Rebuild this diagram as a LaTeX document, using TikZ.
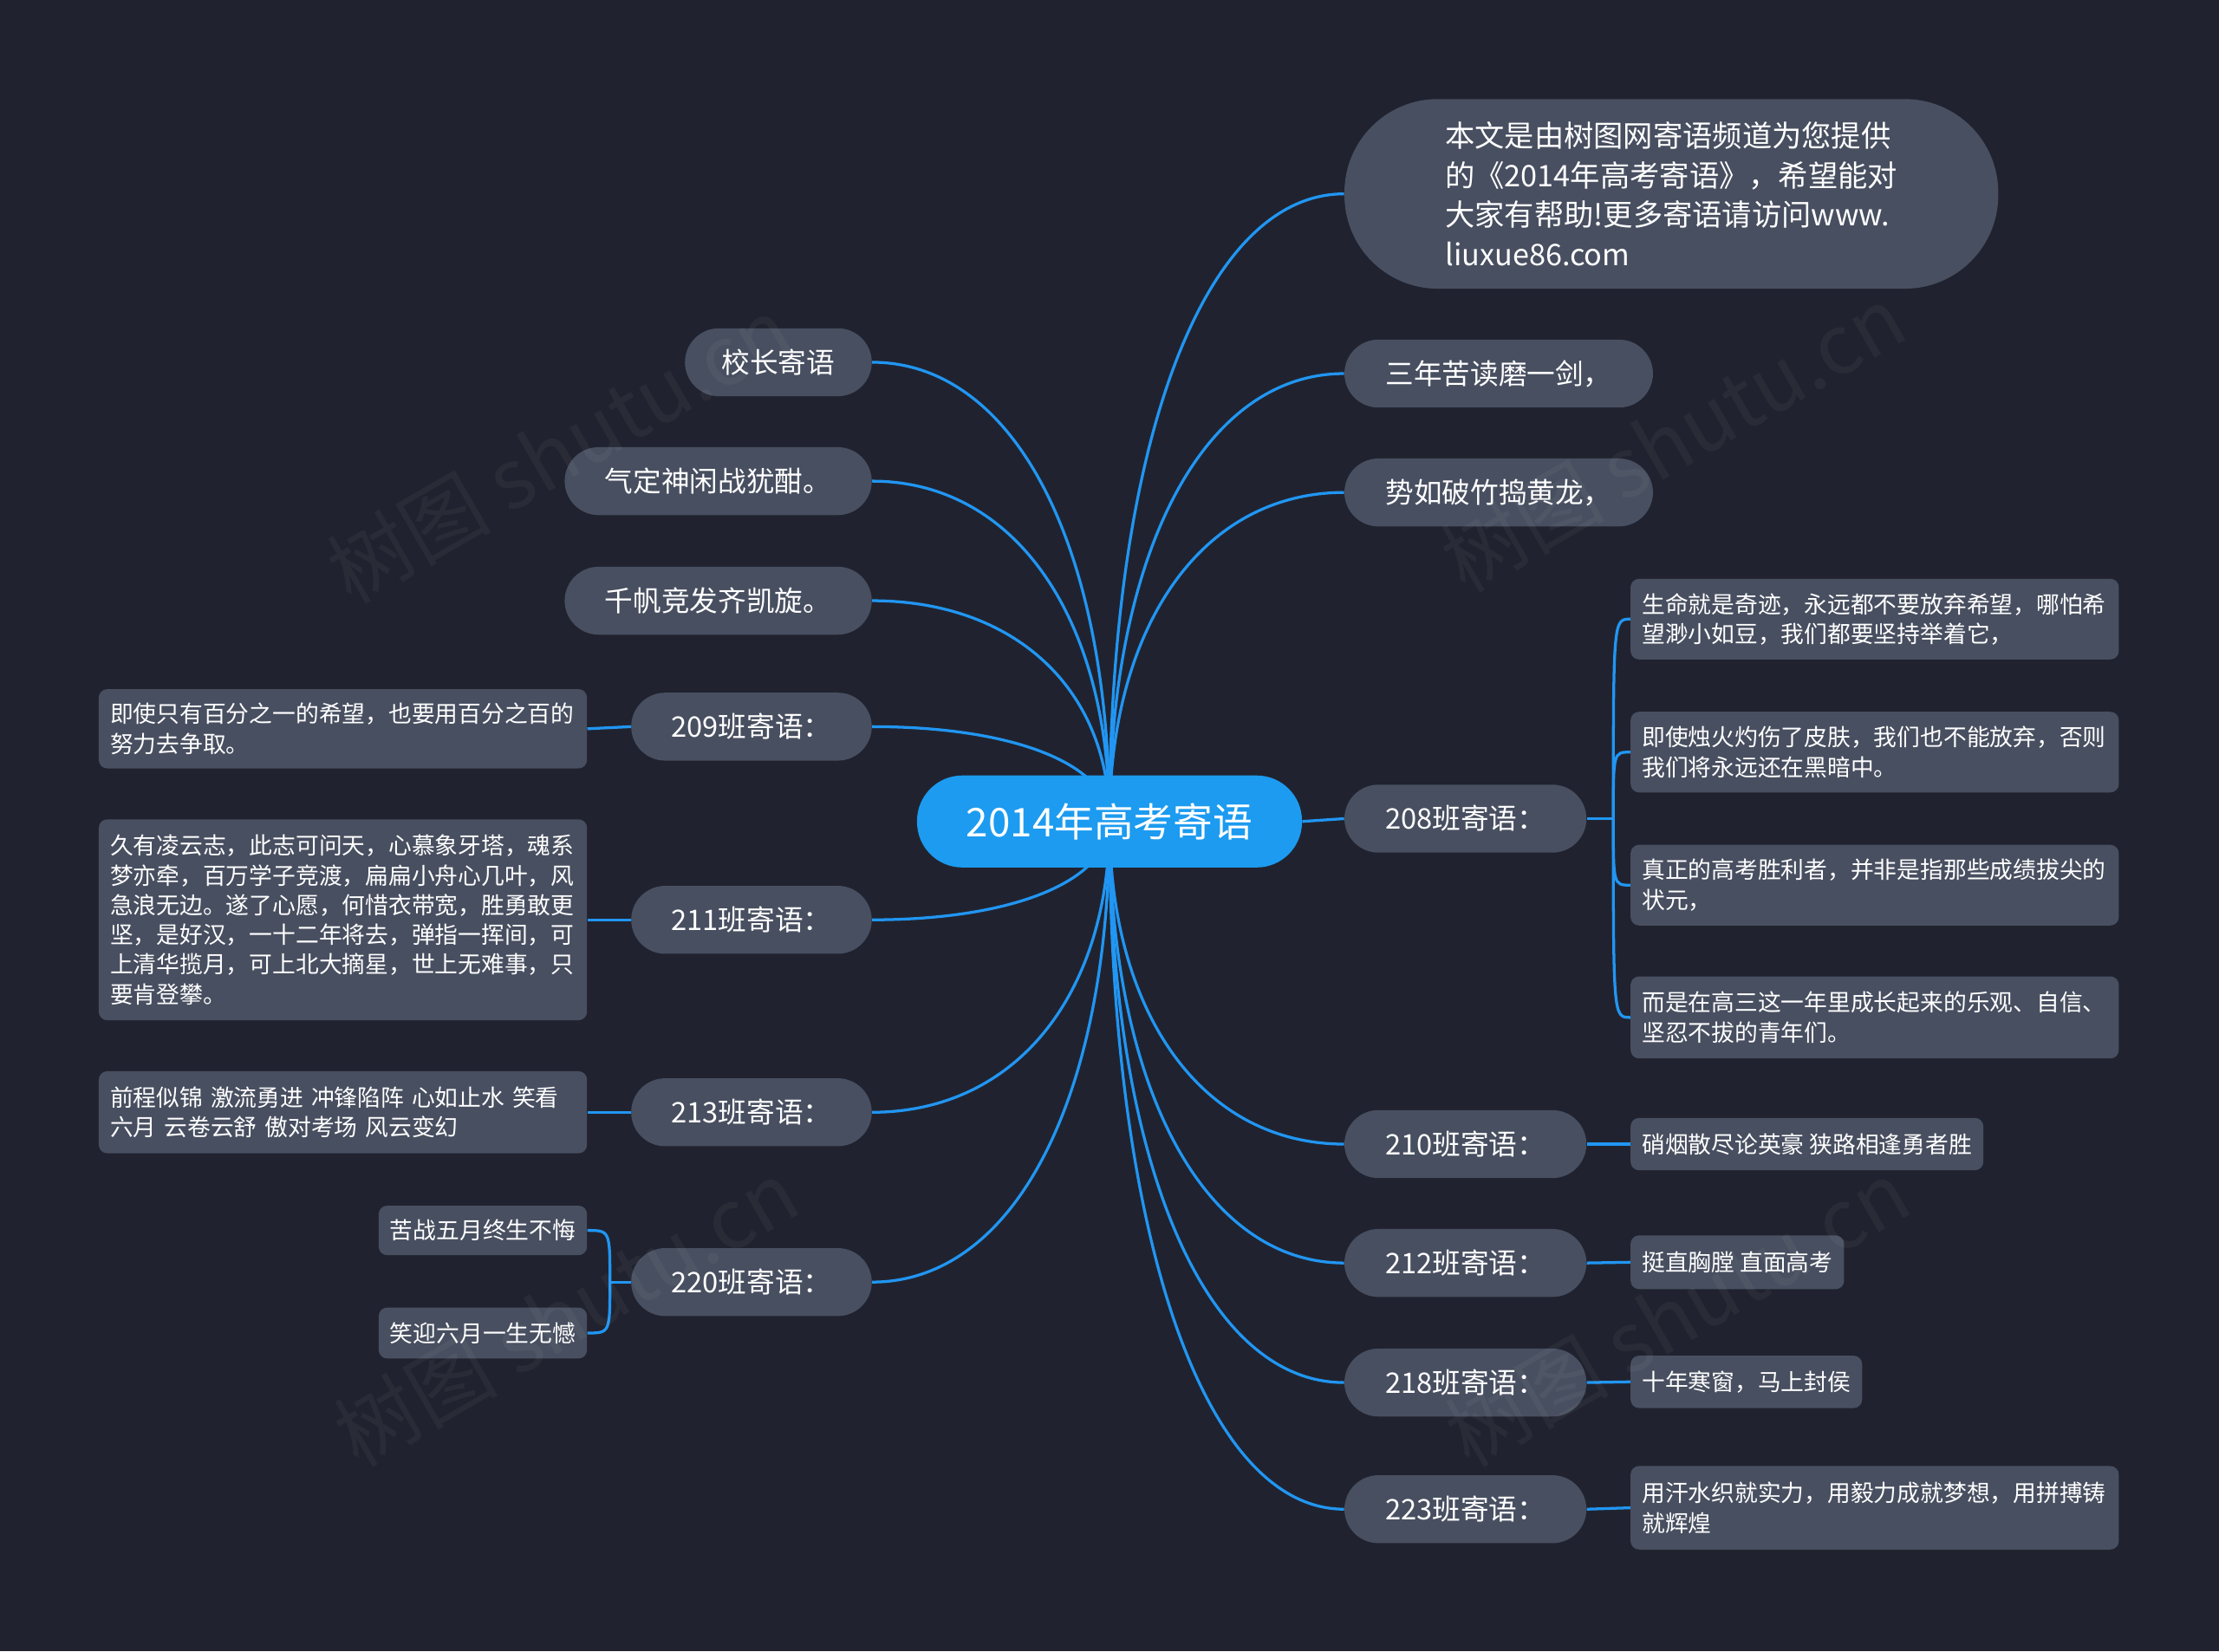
\documentclass[tikz,border=0pt]{standalone}
\usepackage{fontspec}
\setmainfont{Noto Sans CJK SC}
\usetikzlibrary{calc}
\pgfdeclarelayer{bg}
\pgfdeclarelayer{edges}
\pgfsetlayers{bg,edges,main}
\definecolor{bgc}{RGB}{32,35,47}
\definecolor{nodec}{RGB}{72,79,96}
\definecolor{bluec}{RGB}{28,155,240}
\definecolor{linec}{RGB}{33,150,243}
\newcommand\rcurve[2]{\draw[conn] let \p0=(#1), \p1=(#2) in (\p0) .. controls (\x0,{\y0+0.6*(\y1-\y0)}) and ({\x0+0.4*(\x1-\x0)},\y1) .. (\p1);}
\newcommand\bcurve[2]{\draw[conn] let \p0=(#1), \p1=(#2) in (\p0) .. controls (\x0,\y1) and (\x0,\y1) .. (\p1);}
\begin{document}
\begin{tikzpicture}[x=1pt,y=-1pt,
  conn/.style={draw=linec, line width=2pt},
  l1/.style={fill=nodec, rounded corners=24pt, minimum height=48pt, text=white,
    font=\fontsize{20}{24}\selectfont, inner sep=0pt, align=center},
  l2/.style={fill=nodec, rounded corners=6pt, text=white,
    font=\fontsize{16.4}{21}\selectfont, inner xsep=8pt, inner ysep=0pt, align=left},
  l2m/.style={l2, text width=329pt, inner xsep=8pt},
  wm/.style={text=white, text opacity=0.045, font=\fontsize{58}{60}\selectfont, rotate=30}]
\useasboundingbox (0,0) rectangle (1568,1167);

% center
\node[fill=bluec, rounded corners=32pt, minimum height=65pt, minimum width=272pt, inner sep=0pt,
  text=white, font=\fontsize{28}{32}\selectfont] (C) at (784,580.5) {2014年高考寄语};

% right level 1
\node[fill=nodec, rounded corners=66pt, minimum height=134pt, minimum width=462pt, inner sep=0pt,
  text=white, font=\fontsize{21}{28}\selectfont, align=left] (top) at (1181,137)
  {本文是由树图网寄语频道为您提供\\的《2014年高考寄语》，希望能对\\大家有帮助!更多寄语请访问www.\\liuxue86.com};
\node[l1, minimum width=218pt] (s1) at (1059,264) {三年苦读磨一剑，};
\node[l1, minimum width=218pt] (s2) at (1059,348) {势如破竹捣黄龙，};
\node[l1, minimum width=171pt] (b208) at (1035.5,578.5) {208班寄语：};
\node[l1, minimum width=171pt] (b210) at (1035.5,808.5) {210班寄语：};
\node[l1, minimum width=171pt] (b212) at (1035.5,892.5) {212班寄语：};
\node[l1, minimum width=171pt] (b218) at (1035.5,977) {218班寄语：};
\node[l1, minimum width=171pt] (b223) at (1035.5,1066.5) {223班寄语：};

% left level 1
\node[l1, minimum width=132pt] (xz) at (550,256) {校长寄语};
\node[l1, minimum width=217pt] (qd) at (507.5,340) {气定神闲战犹酣。};
\node[l1, minimum width=217pt] (qf) at (507.5,424.5) {千帆竞发齐凯旋。};
\node[l1, minimum width=170pt] (b209) at (531,513.5) {209班寄语：};
\node[l1, minimum width=170pt] (b211) at (531,650) {211班寄语：};
\node[l1, minimum width=170pt] (b213) at (531,786) {213班寄语：};
\node[l1, minimum width=170pt] (b220) at (531,906) {220班寄语：};

% left level 2
\node[l2m, anchor=east, minimum height=56pt] (c209) at (415,515)
  {即使只有百分之一的希望，也要用百分之百的\\努力去争取。};
\node[l2m, anchor=east, minimum height=142pt] (c211) at (415,650)
  {久有凌云志，此志可问天，心慕象牙塔，魂系\\梦亦牵，百万学子竞渡，扁扁小舟心几叶，风\\急浪无边。遂了心愿，何惜衣带宽，胜勇敢更\\坚，是好汉，一十二年将去，弹指一挥间，可\\上清华揽月，可上北大摘星，世上无难事，只\\要肯登攀。};
\node[l2m, anchor=east, minimum height=58pt] (c213) at (415,786)
  {前程似锦 激流勇进 冲锋陷阵 心如止水 笑看\\六月 云卷云舒 傲对考场 风云变幻};
\node[l2, anchor=east, minimum height=35pt] (c220a) at (415,869.5) {苦战五月终生不悔};
\node[l2, anchor=east, minimum height=36pt] (c220b) at (415,942) {笑迎六月一生无憾};

% right level 2
\node[l2m, anchor=west, minimum height=57pt] (r1) at (1152,437.5)
  {生命就是奇迹，永远都不要放弃希望，哪怕希\\望渺小如豆，我们都要坚持举着它，};
\node[l2m, anchor=west, minimum height=57pt] (r2) at (1152,531.5)
  {即使烛火灼伤了皮肤，我们也不能放弃，否则\\我们将永远还在黑暗中。};
\node[l2m, anchor=west, minimum height=57pt] (r3) at (1152,625.5)
  {真正的高考胜利者，并非是指那些成绩拔尖的\\状元，};
\node[l2m, anchor=west, minimum height=58pt] (r4) at (1152,719)
  {而是在高三这一年里成长起来的乐观、自信、\\坚忍不拔的青年们。};
\node[l2, anchor=west, minimum height=37pt] (c210) at (1152,808.5) {硝烟散尽论英豪 狭路相逢勇者胜};
\node[l2, anchor=west, minimum height=38pt] (c212) at (1152,892) {挺直胸膛 直面高考};
\node[l2, anchor=west, minimum height=37pt] (c218) at (1152,976.5) {十年寒窗，马上封侯};
\node[l2m, anchor=west, minimum height=59pt] (c223) at (1152,1065.5)
  {用汗水织就实力，用毅力成就梦想，用拼搏铸\\就辉煌};

\coordinate (J1) at (1140,578.5);
\coordinate (J2) at (431,906);

\begin{pgfonlayer}{bg}
  \fill[bgc] (0,0) rectangle (1568,1167);
\end{pgfonlayer}

\begin{pgfonlayer}{edges}
  % center to right
  \rcurve{C.center}{top.west}
  \rcurve{C.center}{s1.west}
  \rcurve{C.center}{s2.west}
  \draw[conn] (C.east) -- (b208.west);
  \rcurve{C.center}{b210.west}
  \rcurve{C.center}{b212.west}
  \rcurve{C.center}{b218.west}
  \rcurve{C.center}{b223.west}
  % center to left
  \rcurve{C.center}{xz.east}
  \rcurve{C.center}{qd.east}
  \rcurve{C.center}{qf.east}
  \rcurve{C.center}{b209.east}
  \rcurve{C.center}{b211.east}
  \rcurve{C.center}{b213.east}
  \rcurve{C.center}{b220.east}
  % left level 2
  \draw[conn] (b209.west) -- (c209.east);
  \draw[conn] (b211.west) -- (c211.east);
  \draw[conn] (b213.west) -- (c213.east);
  \draw[conn] (b220.west) -- (J2);
  \bcurve{J2}{c220a.east}
  \bcurve{J2}{c220b.east}
  % right level 2
  \draw[conn] (b208.east) -- (J1);
  \bcurve{J1}{r1.west}
  \bcurve{J1}{r2.west}
  \bcurve{J1}{r3.west}
  \bcurve{J1}{r4.west}
  \draw[conn] (b210.east) -- (c210.west);
  \draw[conn] (b212.east) -- (c212.west);
  \draw[conn] (b218.east) -- (c218.west);
  \draw[conn] (b223.east) -- (c223.west);
\end{pgfonlayer}

% watermarks
\node[wm] (w1) at (395,318) {树图 shutu.cn};
\node[wm] (w2) at (1182,310) {树图 shutu.cn};
\node[wm] (w3) at (400,928) {树图 shutu.cn};
\node[wm] (w4) at (1185,928) {树图 shutu.cn};
\end{tikzpicture}
\end{document}
